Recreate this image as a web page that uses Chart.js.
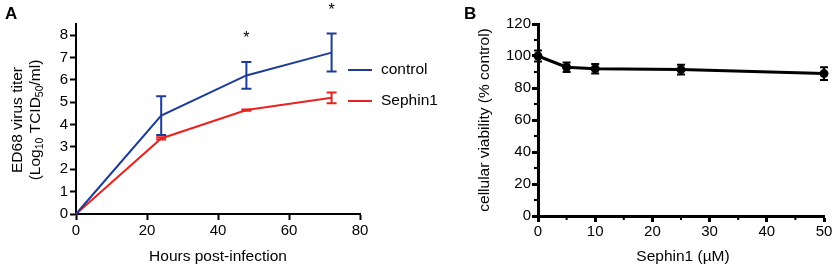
<!DOCTYPE html>
<html>
<head>
<meta charset="utf-8">
<script src="https://cdn.jsdelivr.net/npm/chart.js@4.4.0/dist/chart.umd.min.js"></script>
<style>
  html, body { margin: 0; padding: 0; background: #fff; }
  #wrap { position: relative; width: 835px; height: 268px; }
  #chartA { position: absolute; left: 0; top: 0; }
  #chartB { position: absolute; left: 420px; top: 0; }
</style>
</head>
<body>
<div id="wrap">
  <canvas id="chartA" width="470" height="268"></canvas>
  <canvas id="chartB" width="415" height="268"></canvas>
</div>
<script>
// Panel A — virus titer over time
var hoursA = [0, 24, 48, 72];
var controlTiter = [0, 4.4, 6.2, 7.22];
var controlErr = [0, 0.87, 0.6, 0.85];
var sephinTiter = [0, 3.38, 4.65, 5.2];
var sephinErr = [0, 0.05, 0.03, 0.24];
var yTicksA = [0, 1, 2, 3, 4, 5, 6, 7, 8];
var starHours = [48, 72];
var starLevels = [8.0, 9.24];

// Panel B — cell viability
var doseB = [0, 5, 10, 25, 50];
var viability = [100, 93, 92, 91.5, 89];
var viabilityErr = [3.5, 3, 3, 3, 4];
var minorTicksBx = [5, 15, 25, 35, 45];
var minorTicksBy = [10, 30, 50, 70, 90, 110];

var FONT = "'Liberation Sans', Arial, sans-serif";
var BLUE = '#1d3c96';
var RED = '#e8231f';

function pts(xs, ys) {
  return xs.map(function (x, i) { return { x: x, y: ys[i] }; });
}

function drawErrors(chart, errs, cap) {
  var ctx = chart.ctx;
  var xs = chart.scales.x, ys = chart.scales.y;
  chart.data.datasets.forEach(function (ds, i) {
    ctx.save();
    ctx.strokeStyle = ds.borderColor;
    ctx.lineWidth = 2;
    ds.data.forEach(function (p, j) {
      var e = errs[i][j];
      if (!e) return;
      var x = xs.getPixelForValue(p.x);
      var y1 = ys.getPixelForValue(p.y - e);
      var y2 = ys.getPixelForValue(p.y + e);
      ctx.beginPath();
      ctx.moveTo(x, y1); ctx.lineTo(x, y2);
      ctx.moveTo(x - cap / 2, y1); ctx.lineTo(x + cap / 2, y1);
      ctx.moveTo(x - cap / 2, y2); ctx.lineTo(x + cap / 2, y2);
      ctx.stroke();
    });
    ctx.restore();
  });
}

var axisStyle = function (tickLen, bw) {
  return {
    border: { display: true, color: '#000', width: bw },
    grid: { drawOnChartArea: false, drawTicks: true, tickLength: tickLen, tickColor: '#000', tickWidth: bw }
  };
};

// ---------- Chart A ----------
var extrasA = {
  id: 'extrasA',
  afterDatasetsDraw: function (chart) {
    drawErrors(chart, [controlErr, sephinErr], 10);
  },
  afterDraw: function (chart) {
    var ctx = chart.ctx;
    var xs = chart.scales.x, ys = chart.scales.y;
    ctx.save();
    ctx.fillStyle = '#000';
    // panel letter
    ctx.font = 'bold 17px ' + FONT;
    ctx.textBaseline = 'middle';
    ctx.textAlign = 'left';
    ctx.fillText('A', 5, 14);
    // asterisks
    ctx.font = '16px ' + FONT;
    ctx.textAlign = 'center';
    starHours.forEach(function (h, i) {
      ctx.fillText('*', xs.getPixelForValue(h), ys.getPixelForValue(starLevels[i]) + 3);
    });
    // x title
    ctx.font = '15.5px ' + FONT;
    ctx.fillText('Hours post-infection', 218, 257);
    // legend
    var items = [['control', BLUE, 70], ['Sephin1', RED, 101]];
    items.forEach(function (it) {
      ctx.strokeStyle = it[1];
      ctx.lineWidth = 2;
      ctx.beginPath();
      ctx.moveTo(348, it[2]); ctx.lineTo(372, it[2]);
      ctx.stroke();
      ctx.textAlign = 'left';
      ctx.fillText(it[0], 381, it[2]);
    });
    // y title (rotated, with subscripts)
    ctx.translate(18, 120);
    ctx.rotate(-Math.PI / 2);
    ctx.textAlign = 'center';
    ctx.textBaseline = 'middle';
    ctx.font = '15.5px ' + FONT;
    ctx.fillText('ED68 virus titer', 0, 0);
    var segs = [['(Log', 0], ['10', 1], [' TCID', 0], ['50', 1], ['/ml)', 0]];
    var widths = segs.map(function (s) {
      ctx.font = (s[1] ? '10.5px ' : '15.5px ') + FONT;
      return ctx.measureText(s[0]).width;
    });
    var total = widths.reduce(function (a, b) { return a + b; }, 0);
    var cx = -total / 2;
    ctx.textAlign = 'left';
    ctx.textBaseline = 'alphabetic';
    segs.forEach(function (s, i) {
      ctx.font = (s[1] ? '10.5px ' : '15.5px ') + FONT;
      ctx.fillText(s[0], cx, 17 + 5 + (s[1] ? 3 : 0));
      cx += widths[i];
    });
    ctx.restore();
  }
};

var axA = axisStyle(6, 2);
new Chart(document.getElementById('chartA').getContext('2d'), {
  type: 'line',
  data: {
    datasets: [
      { label: 'control', data: pts(hoursA, controlTiter), borderColor: BLUE, borderWidth: 2, pointRadius: 0, tension: 0, clip: false },
      { label: 'Sephin1', data: pts(hoursA, sephinTiter), borderColor: RED, borderWidth: 2, pointRadius: 0, tension: 0, clip: false }
    ]
  },
  options: {
    responsive: false,
    animation: false,
    layout: { padding: { left: 0, top: 24, right: 110, bottom: 0 } },
    plugins: { legend: { display: false }, tooltip: { enabled: false } },
    scales: {
      x: {
        type: 'linear', min: 0, max: 80,
        border: axA.border, grid: axA.grid,
        ticks: { stepSize: 20, color: '#000', padding: 2, font: { family: FONT, size: 15 } },
        afterFit: function (s) { s.height = 54; }
      },
      y: {
        type: 'linear', min: 0, max: 8.5,
        border: axA.border, grid: axA.grid,
        afterBuildTicks: function (s) { s.ticks = yTicksA.map(function (v) { return { value: v }; }); },
        ticks: { color: '#000', padding: 2, font: { family: FONT, size: 15 } },
        afterFit: function (s) { s.width = 76; }
      }
    }
  },
  plugins: [extrasA]
});

// ---------- Chart B ----------
var extrasB = {
  id: 'extrasB',
  afterDatasetsDraw: function (chart) {
    drawErrors(chart, [viabilityErr], 8);
  },
  afterDraw: function (chart) {
    var ctx = chart.ctx;
    var xs = chart.scales.x, ys = chart.scales.y;
    ctx.save();
    ctx.strokeStyle = '#000';
    ctx.lineWidth = 2;
    ctx.beginPath();
    minorTicksBx.forEach(function (v) {
      var x = xs.getPixelForValue(v);
      ctx.moveTo(x, ys.bottom); ctx.lineTo(x, ys.bottom + 4);
    });
    minorTicksBy.forEach(function (v) {
      var y = ys.getPixelForValue(v);
      ctx.moveTo(xs.left, y); ctx.lineTo(xs.left - 4, y);
    });
    ctx.stroke();
    ctx.fillStyle = '#000';
    ctx.font = 'bold 17px ' + FONT;
    ctx.textBaseline = 'middle';
    ctx.textAlign = 'left';
    ctx.fillText('B', 44, 14);
    ctx.font = '15.5px ' + FONT;
    ctx.textAlign = 'center';
    ctx.fillText('Sephin1 (\u00b5M)', 263, 257);
    ctx.translate(65, 120);
    ctx.rotate(-Math.PI / 2);
    ctx.fillText('cellular viability (% control)', 0, 0);
    ctx.restore();
  }
};

var axB = axisStyle(6, 3);
new Chart(document.getElementById('chartB').getContext('2d'), {
  type: 'line',
  data: {
    datasets: [
      { label: 'viability', data: pts(doseB, viability), borderColor: '#000', backgroundColor: '#000', borderWidth: 3, pointRadius: 4.5, pointBackgroundColor: '#000', pointBorderWidth: 0, tension: 0, clip: false }
    ]
  },
  options: {
    responsive: false,
    animation: false,
    layout: { padding: { left: 0, top: 24, right: 11, bottom: 0 } },
    plugins: { legend: { display: false }, tooltip: { enabled: false } },
    scales: {
      x: {
        type: 'linear', min: 0, max: 50,
        border: axB.border, grid: axB.grid,
        ticks: { stepSize: 10, color: '#000', padding: 1, font: { family: FONT, size: 15 } },
        afterFit: function (s) { s.height = 52; }
      },
      y: {
        type: 'linear', min: 0, max: 120,
        border: axB.border, grid: axB.grid,
        ticks: { stepSize: 20, color: '#000', padding: 1, font: { family: FONT, size: 15 } },
        afterFit: function (s) { s.width = 118; }
      }
    }
  },
  plugins: [extrasB]
});
</script>
</body>
</html>
